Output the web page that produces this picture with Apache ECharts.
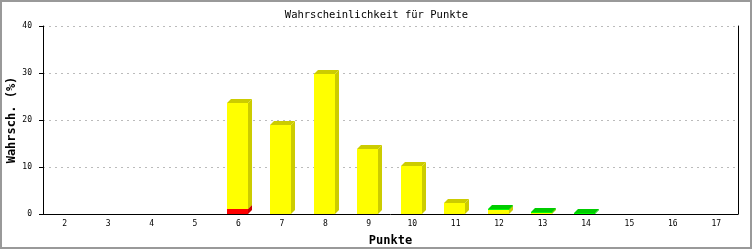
<!DOCTYPE html>
<html><head><meta charset="utf-8">
<script src="https://cdn.jsdelivr.net/npm/echarts@6/dist/echarts.min.js"></script>
<style>html,body{margin:0;padding:0;background:#fff}#c{width:753px;height:250px}</style>
</head><body><div id="c"></div>
<script>
const categories = ['2','3','4','5','6','7','8','9','10','11','12','13','14','15','16','17'];
const redValues    = [0,0,0,0,1.1,0,0,0,0,0,0,0,0,0,0,0];
const yellowValues = [0,0,0,0,22.5,18.9,29.8,13.8,10.2,2.4,0.85,0.2,0,0,0,0];
const greenValues  = [0,0,0,0,0,0,0,0,0,0,0.12,0.12,0.12,0,0,0];
const yTickMin = 0, yTickMax = 40, yTickStep = 10;
const titleText = 'Wahrscheinlichkeit für Punkte';
const xName = 'Punkte';
const yName = 'Wahrsch. (%)';

const seriesDefs = [
  {values: redValues, front: '#ff0000', dark: '#c80000', topc: '#c80000'},
  {values: yellowValues, front: '#ffff00', dark: '#cccc00', topc: '#cccc00'},
  {values: greenValues, front: '#00ff00', dark: '#00cc00', topc: '#00cc00'}
];
const segs = [];
const base = categories.map(() => 0);
seriesDefs.forEach((s, si) => {
  s.values.forEach((v, i) => {
    if (v > 0) { segs.push([i, base[i], base[i] + v, si]); base[i] += v; }
  });
});
const D = 4;
function renderItem(params, api) {
  const i = api.value(0), y0 = api.value(1), y1 = api.value(2), si = api.value(3);
  const s = seriesDefs[si];
  const pb = api.coord([i, y0]), pt = api.coord([i, y1]);
  const w = api.size([1, 0])[0] * 0.485;
  const x0 = Math.round(pb[0] - w / 2 - 1), x1 = Math.round(x0 + w);
  const yb = Math.round(pb[1]), yt = Math.round(pt[1]);
  return {type: 'group', children: [
    {type: 'polygon', shape: {points: [[x1, yt], [x1 + D, yt - D], [x1 + D, yb - D], [x1, yb]]}, style: {fill: s.dark}},
    {type: 'polygon', shape: {points: [[x0, yt], [x0 + D, yt - D], [x1 + D, yt - D], [x1, yt]]}, style: {fill: s.topc}},
    {type: 'rect', shape: {x: x0, y: yt, width: x1 - x0, height: Math.max(yb - yt, 0.6)}, style: {fill: s.front}}
  ]};
}
const mono = 'DejaVu Sans Mono';
const chart = echarts.init(document.getElementById('c'), null, {renderer: 'canvas'});
chart.setOption({
  animation: false,
  title: {text: titleText, left: 'center', top: 5, textStyle: {fontFamily: mono, fontSize: 10.5, fontWeight: 'normal', color: '#000'}},
  graphic: [{type: 'rect', shape: {x: 1, y: 1, width: 750, height: 247}, style: {fill: 'none', stroke: '#999', lineWidth: 2}, silent: true, z: 100}],
  grid: {left: 43, right: 15, top: 26, bottom: 36, outerBoundsMode: 'none', containLabel: false},
  xAxis: {type: 'category', data: categories, boundaryGap: true,
    axisLine: {lineStyle: {color: '#000', width: 1}}, axisTick: {show: false},
    axisLabel: {fontFamily: mono, fontSize: 8, color: '#000', margin: 6},
    name: xName, nameLocation: 'middle', nameGap: 21, nameMoveOverlap: false,
    nameTextStyle: {fontFamily: mono, fontSize: 12, fontWeight: 'bold', color: '#000'}},
  yAxis: [{type: 'value', min: yTickMin, max: yTickMax, interval: yTickStep,
    axisLine: {show: true, lineStyle: {color: '#000', width: 1}},
    axisTick: {show: true, length: 4, lineStyle: {color: '#000'}},
    axisLabel: {fontFamily: mono, fontSize: 8, color: '#000', margin: 11},
    splitLine: {show: true, lineStyle: {color: '#bbb', type: [2, 4]}},
    name: yName, nameLocation: 'middle', nameGap: 25, nameRotate: 90, nameMoveOverlap: false,
    nameTextStyle: {fontFamily: mono, fontSize: 12, fontWeight: 'bold', color: '#000'}},
   {type: 'value', min: yTickMin, max: yTickMax, interval: yTickStep, position: 'right',
    axisLine: {show: true, lineStyle: {color: '#000', width: 1}}, axisTick: {show: false},
    axisLabel: {show: false}, splitLine: {show: false}}],
  series: [{type: 'custom', renderItem: renderItem, data: segs, encode: {x: 0, y: [1, 2]}, clip: false}]
});
</script></body></html>
